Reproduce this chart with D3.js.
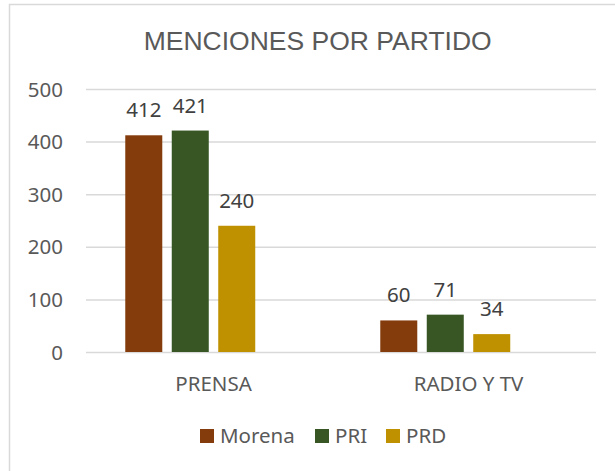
<!DOCTYPE html>
<html>
<head>
<meta charset="utf-8">
<script src="https://cdn.jsdelivr.net/npm/d3@7"></script>
<style>
  html, body { margin: 0; padding: 0; background: #fff; }
  svg { display: block; }
</style>
</head>
<body>
<div id="chart"></div>
<script>
// Menciones por partido (prensa vs radio y tv)
const categories = ["PRENSA", "RADIO Y TV"];
const series = ["Morena", "PRI", "PRD"];
const morena = [412, 60];
const pri = [421, 71];
const prd = [240, 34];
const yTicks = [0, 100, 200, 300, 400, 500];
const colors = ["#843C0C", "#375623", "#BF9000"];

const values = [morena, pri, prd];
const data = categories.map((c, i) => ({
  cat: c,
  vals: series.map((s, j) => ({ name: s, value: values[j][i] }))
}));

const W = 615, H = 471;
const plot = { left: 86, right: 596, top: 89, bottom: 352 };
const FONT = "'Noto Sans', sans-serif";
const FS = "20.5px";

const svg = d3.select("#chart").append("svg")
  .attr("width", W)
  .attr("height", H);

// borde del gráfico
svg.append("rect")
  .attr("x", 9.5).attr("y", 4.5)
  .attr("width", 640).attr("height", 500)
  .attr("fill", "#fff")
  .attr("stroke", "#d9d9d9")
  .attr("stroke-width", 1.5);

const x = d3.scaleBand()
  .domain(categories)
  .range([plot.left, plot.right])
  .paddingInner(0.308)
  .paddingOuter(0.154);

// el grupo tiene 4 huecos (el último vacío), como en el original
const xs = d3.scaleBand()
  .domain([...series, "_vacio"])
  .range([0, x.bandwidth()])
  .paddingInner(0.204)
  .paddingOuter(0);

const y = d3.scaleLinear()
  .domain([0, 500])
  .range([plot.bottom, plot.top]);

const color = d3.scaleOrdinal().domain(series).range(colors);

// grid
svg.append("g")
  .attr("transform", `translate(${plot.left},0)`)
  .call(d3.axisLeft(y).tickValues(yTicks).tickSize(-(plot.right - plot.left)).tickFormat(""))
  .call(g => g.select(".domain").remove())
  .call(g => g.selectAll("line").attr("stroke", "#d9d9d9").attr("stroke-width", 1.5));

// eje Y
svg.append("g")
  .attr("transform", `translate(${plot.left - 23},0)`)
  .call(d3.axisLeft(y).tickValues(yTicks).tickSize(0).tickPadding(0))
  .call(g => g.select(".domain").remove())
  .selectAll("text")
  .attr("dy", "0.35em")
  .style("font-family", FONT)
  .style("font-size", FS)
  .style("fill", "#595959");

// eje X
svg.append("g")
  .attr("transform", `translate(0,${plot.bottom})`)
  .call(d3.axisBottom(x).tickSize(0).tickPadding(0))
  .call(g => g.select(".domain").remove())
  .selectAll("text")
  .attr("y", 39)
  .attr("dy", 0)
  .style("font-family", FONT)
  .style("font-size", FS)
  .style("fill", "#595959");

// barras
const groups = svg.selectAll(".grp")
  .data(data)
  .enter().append("g")
  .attr("class", "grp")
  .attr("transform", d => `translate(${x(d.cat)},0)`);

groups.selectAll("rect")
  .data(d => d.vals)
  .enter().append("rect")
  .attr("x", d => xs(d.name))
  .attr("y", d => y(d.value))
  .attr("width", xs.bandwidth())
  .attr("height", d => y(0) - y(d.value))
  .attr("fill", d => color(d.name));

groups.selectAll(".lbl")
  .data(d => d.vals)
  .enter().append("text")
  .attr("class", "lbl")
  .attr("x", d => xs(d.name) + xs.bandwidth() / 2)
  .attr("y", d => y(d.value) - 18)
  .attr("text-anchor", "middle")
  .style("font-family", FONT)
  .style("font-size", FS)
  .style("fill", "#404040")
  .text(d => d.value);

// título
svg.append("text")
  .attr("x", 317.7)
  .attr("y", 50)
  .attr("text-anchor", "middle")
  .style("font-family", "'Liberation Sans', Arial, sans-serif")
  .style("font-size", "26.5px")
  .style("fill", "#595959")
  .text("MENCIONES POR PARTIDO");

// leyenda
const legendX = [200, 315, 386];
const legend = svg.selectAll(".leg")
  .data(series)
  .enter().append("g")
  .attr("class", "leg")
  .attr("transform", (d, i) => `translate(${legendX[i]},429)`);

legend.append("rect")
  .attr("width", 14).attr("height", 14)
  .attr("fill", d => color(d));

legend.append("text")
  .attr("x", 20)
  .attr("y", 13.5)
  .style("font-family", FONT)
  .style("font-size", FS)
  .style("fill", "#595959")
  .text(d => d);
</script>
</body>
</html>
